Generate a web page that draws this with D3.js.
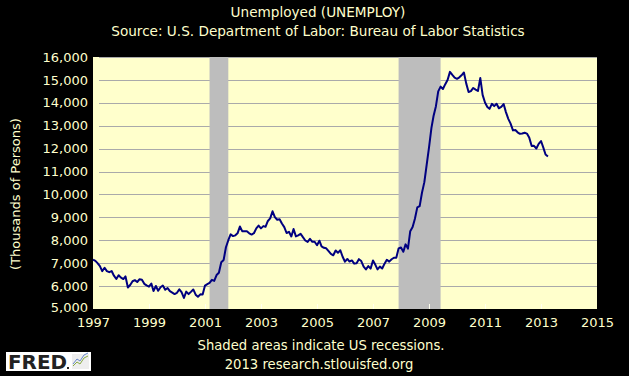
<!DOCTYPE html>
<html>
<head>
<meta charset="utf-8">
<script src="https://cdn.jsdelivr.net/npm/d3@7"></script>
<style>
  html, body { margin: 0; padding: 0; background: #000; }
  svg { display: block; }
  text { font-family: "DejaVu Sans", Verdana, sans-serif; fill: #ffffcc; }
</style>
</head>
<body>
<svg id="chart" width="629" height="376"></svg>
<script>
// ---- Data (thousands of persons, monthly, seasonally adjusted) ----
const title = "Unemployed (UNEMPLOY)";
const subtitle = "Source: U.S. Department of Labor: Bureau of Labor Statistics";
const yLabel = "(Thousands of Persons)";
const footnote1 = "Shaded areas indicate US recessions.";
const footnote2 = "2013 research.stlouisfed.org";
const firstMonth = "1997-01";
const unemployed = [
  // 1997
  7158, 7102, 7000, 6873, 6655, 6799, 6655, 6608, 6656, 6454, 6308, 6476,
  // 1998
  6368, 6306, 6422, 5941, 6047, 6212, 6259, 6179, 6300, 6280, 6100, 6032,
  // 1999
  5976, 6111, 5783, 6004, 5796, 5951, 6025, 5838, 5915, 5778, 5716, 5653,
  // 2000
  5708, 5858, 5733, 5481, 5758, 5651, 5747, 5853, 5625, 5534, 5639, 5634,
  // 2001
  6023, 6089, 6141, 6271, 6226, 6484, 6583, 7042, 7142, 7694, 8003, 8258,
  // 2002
  8182, 8215, 8304, 8599, 8399, 8393, 8390, 8304, 8251, 8307, 8520, 8640,
  // 2003
  8520, 8618, 8588, 8842, 8957, 9266, 9011, 8896, 8921, 8732, 8576, 8317,
  // 2004
  8370, 8167, 8491, 8170, 8212, 8286, 8136, 7990, 7927, 8061, 7932, 7934,
  // 2005
  7784, 7980, 7737, 7672, 7651, 7524, 7406, 7345, 7553, 7453, 7566, 7279,
  // 2006
  7064, 7184, 7072, 7120, 6980, 7001, 7175, 7091, 6847, 6727, 6872, 6762,
  // 2007
  7116, 6927, 6731, 6850, 6766, 6979, 7149, 7067, 7170, 7237, 7240, 7645,
  // 2008
  7685, 7497, 7822, 7637, 8395, 8575, 8937, 9438, 9494, 10074, 10538, 11286,
  // 2009
  12058, 12898, 13426, 13853, 14499, 14707, 14601, 14814, 15009, 15352, 15219, 15098,
  // 2010
  15046, 15113, 15202, 15325, 14849, 14474, 14512, 14648, 14579, 14516, 15081, 14348,
  // 2011
  14013, 13820, 13737, 13957, 13855, 13962, 13763, 13818, 13948, 13594, 13302, 13093,
  // 2012
  12797, 12813, 12713, 12646, 12660, 12692, 12656, 12471, 12115, 12124, 12005, 12206,
  // 2013
  12332, 12032, 11742, 11659
];
const recessions = [
  ["2001-03-01", "2001-11-01"],
  ["2007-12-01", "2009-06-01"]
];
const xTickYears = [1997, 1999, 2001, 2003, 2005, 2007, 2009, 2011, 2013, 2015];
const yTicks = [5000, 6000, 7000, 8000, 9000, 10000, 11000, 12000, 13000, 14000, 15000, 16000];

// ---- Layout ----
const svg = d3.select("#chart");
const plot = { left: 93, right: 597, top: 57, bottom: 309 };

const parseMonth = d3.timeParse("%Y-%m");
const parseDay = d3.timeParse("%Y-%m-%d");
const start = parseMonth(firstMonth);
const series = unemployed.map((v, i) => ({ date: d3.timeMonth.offset(start, i), value: v }));

const x = d3.scaleTime()
  .domain([new Date(1997, 0, 1), new Date(2015, 0, 1)])
  .range([plot.left, plot.right]);
const y = d3.scaleLinear()
  .domain([5000, 16000])
  .range([plot.bottom, plot.top]);

// background
svg.append("rect").attr("x", 0).attr("y", 0).attr("width", 629).attr("height", 376).attr("fill", "#000");

// plot area
svg.append("rect")
  .attr("x", plot.left).attr("y", plot.top)
  .attr("width", plot.right - plot.left).attr("height", plot.bottom - plot.top)
  .attr("fill", "#ffffcc");

// gridlines
svg.append("g").selectAll("line")
  .data(yTicks.filter(t => t > 5000))
  .join("line")
  .attr("x1", plot.left + 6).attr("x2", plot.right)
  .attr("y1", d => Math.round(y(d)) + 0.5).attr("y2", d => Math.round(y(d)) + 0.5)
  .attr("stroke", "#aaaaaa").attr("stroke-width", 1);

// recessions
svg.append("g").selectAll("rect")
  .data(recessions)
  .join("rect")
  .attr("x", d => x(parseDay(d[0])))
  .attr("width", d => x(parseDay(d[1])) - x(parseDay(d[0])))
  .attr("y", plot.top).attr("height", plot.bottom - plot.top)
  .attr("fill", "#bdbdbd");

// bottom tick marks
svg.append("g").selectAll("line")
  .data(xTickYears.slice(1, -1))
  .join("line")
  .attr("x1", d => Math.round(x(new Date(d, 0, 1))) + 0.5)
  .attr("x2", d => Math.round(x(new Date(d, 0, 1))) + 0.5)
  .attr("y1", plot.bottom - 5).attr("y2", plot.bottom)
  .attr("stroke", "#ffffee").attr("stroke-width", 1);

// line
const line = d3.line()
  .x(d => x(d.date))
  .y(d => y(d.value));
svg.append("path")
  .datum(series)
  .attr("d", line)
  .attr("fill", "none")
  .attr("stroke", "#000080")
  .attr("stroke-width", 2)
  .attr("stroke-linejoin", "round");

// y axis labels
const yAxis = d3.axisLeft(y).tickValues(yTicks).tickFormat(d3.format(",")).tickSize(0).tickPadding(5);
const gy = svg.append("g").attr("transform", `translate(${plot.left},0)`).call(yAxis);
gy.select(".domain").remove();
gy.selectAll("text")
  .attr("fill", "#ffffcc")
  .style("font-family", '"DejaVu Sans", Verdana, sans-serif')
  .style("font-size", "13px");
gy.selectAll(".tick").filter(d => d === 5000).select("text").attr("dy", "0.22em");

// x axis labels
const xAxis = d3.axisBottom(x)
  .tickValues(xTickYears.map(yr => new Date(yr, 0, 1)))
  .tickFormat(d3.timeFormat("%Y")).tickSize(0).tickPadding(9);
const gx = svg.append("g").attr("transform", `translate(0,${plot.bottom})`).call(xAxis);
gx.select(".domain").remove();
gx.selectAll("text")
  .attr("fill", "#ffffcc")
  .style("font-family", '"DejaVu Sans", Verdana, sans-serif')
  .style("font-size", "13px");

// titles
svg.append("text").attr("x", 318).attr("y", 17).attr("text-anchor", "middle")
  .style("font-size", "13.6px").text(title);
svg.append("text").attr("x", 318).attr("y", 36).attr("text-anchor", "middle")
  .style("font-size", "13.6px").text(subtitle);

// y label
svg.append("text")
  .attr("transform", `translate(20,${(plot.top + plot.bottom) / 2 + 11}) rotate(-90)`)
  .attr("text-anchor", "middle")
  .style("font-size", "13px").text(yLabel);

// footnotes
svg.append("text").attr("x", 321).attr("y", 350).attr("text-anchor", "middle")
  .style("font-size", "13.2px").text(footnote1);
svg.append("text").attr("x", 319).attr("y", 369).attr("text-anchor", "middle")
  .style("font-size", "13.2px").text(footnote2);

// FRED logo
const logo = svg.append("g");
logo.append("rect").attr("x", 6).attr("y", 352).attr("width", 85).attr("height", 19).attr("fill", "#ffffff");
logo.append("text").attr("x", 8).attr("y", 369)
  .style("font-family", '"DejaVu Sans", Arial, sans-serif')
  .style("font-weight", "bold").style("font-size", "19px")
  .attr("fill", "#222222").style("fill", "#222222")
  .attr("textLength", 59).attr("lengthAdjust", "spacingAndGlyphs")
  .text("FRED");
logo.append("rect").attr("x", 67).attr("y", 367).attr("width", 2).attr("height", 2).attr("fill", "#222");
logo.append("rect").attr("x", 72).attr("y", 354).attr("width", 17).attr("height", 15).attr("fill", "#eeeeee");
logo.append("polyline")
  .attr("points", "73,366 77,362 80,364 84,358 88,356")
  .attr("fill", "none").attr("stroke", "#88aa44").attr("stroke-width", 1);
logo.append("polyline")
  .attr("points", "73,364 77,359 80,361 84,355 88,353")
  .attr("fill", "none").attr("stroke", "#6688cc").attr("stroke-width", 1);
</script>
</body>
</html>
